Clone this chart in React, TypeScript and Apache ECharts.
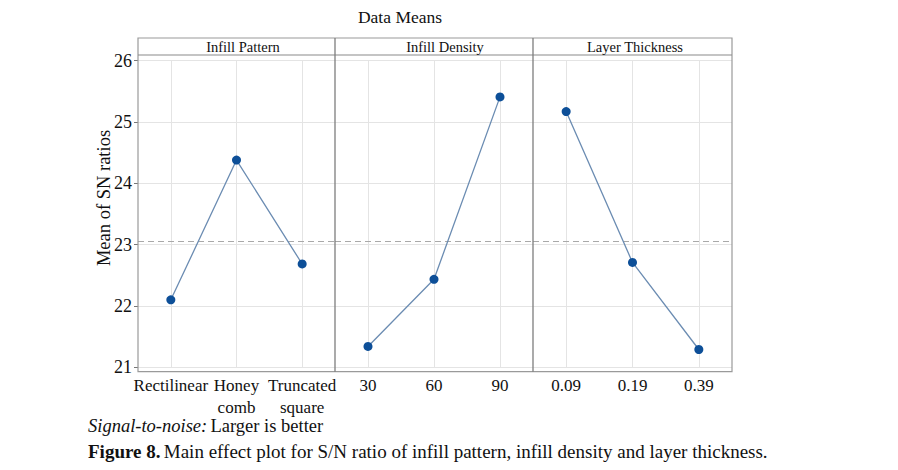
import React, { useEffect, useRef } from "react";
import * as echarts from "echarts";

const panelTitles = ["Infill Pattern", "Infill Density", "Layer Thickness"];
const patternCats = ["Rectilinear", "Honey\ncomb", "Truncated\nsquare"];
const densityCats = ["30", "60", "90"];
const thicknessCats = ["0.09", "0.19", "0.39"];
const patternMeans = [22.1, 24.38, 22.685];
const densityMeans = [21.34, 22.435, 25.41];
const thicknessMeans = [25.17, 22.71, 21.29];
const yTicks = [21, 22, 23, 24, 25, 26];

const FONT = '"Liberation Serif", "Times New Roman", serif';

export default function App() {
  const ref = useRef<HTMLDivElement>(null);
  useEffect(() => {
    if (!ref.current) return;
    const chart = echarts.init(ref.current, undefined, { renderer: "svg" });
    const cats = [patternCats, densityCats, thicknessCats];
    const vals = [patternMeans, densityMeans, thicknessMeans];
    const grandMean = patternMeans.reduce((a, b) => a + b, 0) / patternMeans.length;
    const lefts = [138, 335, 533];
    const widths = [197, 198, 199];
    const plotTop = 60.7;
    const plotBottom = 470 - 367.3;
    const frameTop = 38;
    const headerBottom = 55;
    const frameBottom = 371.7;

    const grids = lefts.map((l, i) => ({
      left: l,
      width: widths[i],
      top: plotTop,
      bottom: plotBottom,
      containLabel: false,
    }));
    const xAxes = cats.map((c, i) => ({
      type: "category" as const,
      gridIndex: i,
      data: c,
      boundaryGap: true,
      axisLine: { show: false },
      axisTick: { show: false },
      splitLine: { show: false },
      axisLabel: {
        color: "#111",
        fontFamily: FONT,
        fontSize: 17,
        lineHeight: 22,
        margin: 7,
        interval: 0,
      },
    }));
    const yAxes = cats.map((_, i) => ({
      type: "value" as const,
      gridIndex: i,
      min: yTicks[0],
      max: yTicks[yTicks.length - 1],
      interval: 1,
      axisLine: { show: false },
      axisTick: {
        show: i === 0,
        inside: false,
        length: 4,
        lineStyle: { color: "#777" },
      },
      axisLabel: {
        show: i === 0,
        color: "#111",
        fontFamily: FONT,
        fontSize: 18,
        margin: 6,
      },
      splitLine: { show: true, lineStyle: { color: "#e4e4e4", width: 1 } },
    }));
    const series = cats.map((c, i) => ({
      type: "line" as const,
      xAxisIndex: i,
      yAxisIndex: i,
      data: vals[i],
      symbol: "circle",
      symbolSize: 9,
      itemStyle: { color: "#0d4f98" },
      lineStyle: { color: "#6b8cb2", width: 1.3 },
      z: 5,
      markLine: {
        silent: true,
        symbol: "none",
        label: { show: false },
        z: 1,
        data: [
          ...c.map((cat) => ({
            xAxis: cat,
            lineStyle: { color: "#e4e4e4", type: "solid" as const, width: 1 },
          })),
          {
            yAxis: grandMean,
            lineStyle: { color: "#a9a9a9", type: [6, 4], width: 1 },
          },
        ],
      },
    }));

    const headerCenters = [243, 445, 635];
    const graphic: any[] = [
      {
        type: "rect",
        shape: { x: 138, y: frameTop, width: 594, height: frameBottom - frameTop },
        style: { fill: "none", stroke: "#9a9a9a", lineWidth: 1.2 },
        z: 10,
      },
      {
        type: "line",
        shape: { x1: 138, y1: headerBottom, x2: 732, y2: headerBottom },
        style: { stroke: "#8a8a8a", lineWidth: 1.2 },
        z: 10,
      },
      ...[335, 533].map((x) => ({
        type: "line",
        shape: { x1: x, y1: frameTop, x2: x, y2: frameBottom },
        style: { stroke: "#7d7d7d", lineWidth: 1.3 },
        z: 10,
      })),
      ...panelTitles.map((t, i) => ({
        type: "text",
        x: headerCenters[i],
        y: 47,
        style: {
          text: t,
          fontFamily: FONT,
          fontSize: 14.5,
          fill: "#111",
          align: "center",
          verticalAlign: "middle",
        },
        z: 11,
      })),
      {
        type: "text",
        x: 400,
        y: 17,
        style: {
          text: "Data Means",
          fontFamily: FONT,
          fontSize: 17.5,
          fill: "#111",
          align: "center",
          verticalAlign: "middle",
        },
      },
      {
        type: "text",
        x: 104,
        y: 198,
        rotation: Math.PI / 2,
        style: {
          text: "Mean of SN ratios",
          fontFamily: FONT,
          fontSize: 18.5,
          fill: "#111",
          align: "center",
          verticalAlign: "middle",
        },
      },
      {
        type: "text",
        x: 88,
        y: 426,
        style: {
          text: "{i|Signal-to-noise:} {n|Larger is better}",
          verticalAlign: "middle",
          rich: {
            i: { fontFamily: FONT, fontSize: 18.5, fontStyle: "italic", fill: "#111" },
            n: { fontFamily: FONT, fontSize: 18.5, fill: "#111" },
          },
        },
      },
      {
        type: "text",
        x: 88,
        y: 451,
        style: {
          text:
            "{b|Figure 8.} {n|Main effect plot for S/N ratio of infill pattern, infill density and layer thickness.}",
          verticalAlign: "middle",
          rich: {
            b: { fontFamily: FONT, fontSize: 19, fontWeight: "bold", fill: "#111" },
            n: { fontFamily: FONT, fontSize: 19, fill: "#111" },
          },
        },
      },
    ];

    chart.setOption({
      animation: false,
      backgroundColor: "#ffffff",
      grid: grids,
      xAxis: xAxes,
      yAxis: yAxes,
      series,
      graphic,
    });
    return () => chart.dispose();
  }, []);
  return <div ref={ref} style={{ width: 898, height: 470, position: "absolute", left: 0, top: 0 }} />;
}
